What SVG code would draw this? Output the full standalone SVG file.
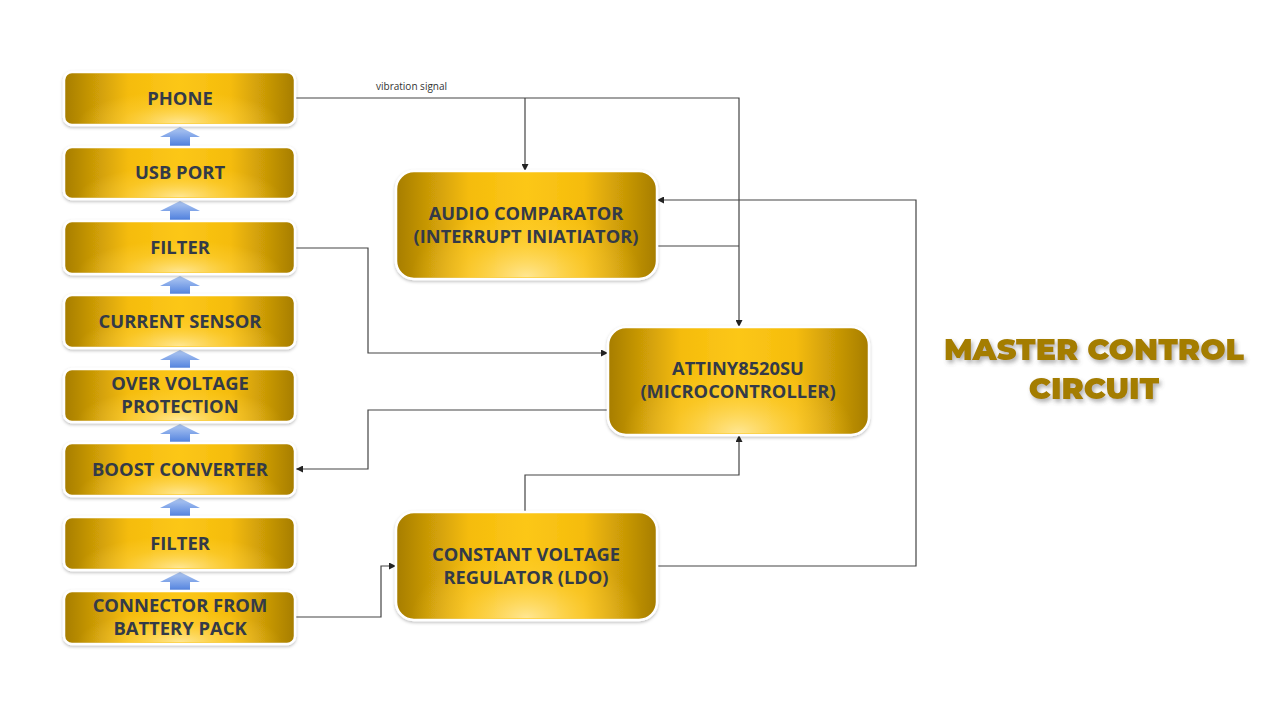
<svg xmlns="http://www.w3.org/2000/svg" width="1280" height="720" viewBox="0 0 1280 720">
<defs>
<linearGradient id="gold" x1="0" y1="0" x2="1" y2="0">
<stop offset="0" stop-color="#a67d02"/>
<stop offset="0.28" stop-color="#f5bc0b"/>
<stop offset="0.5" stop-color="#fcc719"/>
<stop offset="0.72" stop-color="#f5bc0b"/>
<stop offset="1" stop-color="#a67d02"/>
</linearGradient>
<radialGradient id="glow" cx="50%" cy="100%" r="50%" fx="50%" fy="100%" gradientTransform="translate(0.5 1) scale(0.9 1.3) translate(-0.5 -1)">
<stop offset="0" stop-color="#ffe89a" stop-opacity="0.95"/>
<stop offset="0.6" stop-color="#ffd44a" stop-opacity="0.35"/>
<stop offset="1" stop-color="#ffd44a" stop-opacity="0"/>
</radialGradient>
<linearGradient id="blue" x1="0" y1="0" x2="0" y2="1">
<stop offset="0" stop-color="#b2caf3"/>
<stop offset="1" stop-color="#4f80de"/>
</linearGradient>
<filter id="sh" x="-10%" y="-10%" width="120%" height="130%">
<feDropShadow dx="0" dy="1.5" stdDeviation="1.5" flood-color="#000" flood-opacity="0.25"/>
</filter>
<filter id="tsh" x="-10%" y="-20%" width="130%" height="160%">
<feDropShadow dx="2" dy="3" stdDeviation="2" flood-color="#555" flood-opacity="0.45"/>
</filter>
<marker id="ah" viewBox="0 0 10 10" refX="10" refY="5" markerWidth="7" markerHeight="7" markerUnits="userSpaceOnUse" orient="auto">
<path d="M0,0 L10,5 L0,10 z" fill="#222"/>
</marker>
<g id="uparrow">
<path d="M0,-9 L20,1 L10,1 L10,10 L-10,10 L-10,1 L-20,1 z" fill="url(#blue)"/>
</g>
</defs>
<style>
.box{fill:url(#gold);stroke:#fff;stroke-width:2.5;filter:url(#sh)}
.glow{fill:url(#glow);stroke:none}
.lbl{font-family:"Open Sans","Noto Sans",sans-serif;font-weight:700;fill:#333a48;text-anchor:middle}
.s{font-size:18.4px}
.m{font-size:18.3px}
.con{fill:none;stroke:#444;stroke-width:1.2}
.title{font-family:"Montserrat","Lato","Open Sans",sans-serif;font-weight:900;font-size:30px;fill:#a47d05;text-anchor:middle;filter:url(#tsh)}
</style>
<rect width="1280" height="720" fill="#fff"/>

<g id="connectors">
<polyline class="con" points="295,98 739,98 739,327" marker-end="url(#ah)"/>
<polyline class="con" points="525,98 525,171" marker-end="url(#ah)"/>
<polyline class="con" points="657,246 739,246"/>
<polyline class="con" points="295,248 368,248 368,353 608,353" marker-end="url(#ah)"/>
<polyline class="con" points="608,410 368,410 368,469 296,469" marker-end="url(#ah)"/>
<polyline class="con" points="295,617 381,617 381,566 396,566" marker-end="url(#ah)"/>
<polyline class="con" points="525,512 525,475 739,475 739,435" marker-end="url(#ah)"/>
<polyline class="con" points="657,566 916,566 916,200 657,200" marker-end="url(#ah)"/>
<text x="376" y="90" font-family="'Open Sans','DejaVu Sans',sans-serif" font-size="10" fill="#333">vibration signal</text>
</g>

<g id="arrows">
<use href="#uparrow" x="180" y="136"/>
<use href="#uparrow" x="180" y="210"/>
<use href="#uparrow" x="180" y="285"/>
<use href="#uparrow" x="180" y="359"/>
<use href="#uparrow" x="180" y="433"/>
<use href="#uparrow" x="180" y="507"/>
<use href="#uparrow" x="180" y="581"/>
</g>

<g id="n-phone"><rect class="box" x="64" y="72" width="231" height="53" rx="8"/><rect class="glow" x="66" y="74" width="227" height="49" rx="7"/><text class="lbl s" x="180" y="105">PHONE</text></g>
<g id="n-usb"><rect class="box" x="64" y="147" width="231" height="52" rx="8"/><rect class="glow" x="66" y="149" width="227" height="48" rx="7"/><text class="lbl s" x="180" y="179">USB PORT</text></g>
<g id="n-filter1"><rect class="box" x="64" y="221" width="231" height="53" rx="8"/><rect class="glow" x="66" y="223" width="227" height="49" rx="7"/><text class="lbl s" x="180" y="254">FILTER</text></g>
<g id="n-current"><rect class="box" x="64" y="295" width="231" height="53" rx="8"/><rect class="glow" x="66" y="297" width="227" height="49" rx="7"/><text class="lbl s" x="180" y="328">CURRENT SENSOR</text></g>
<g id="n-ovp"><rect class="box" x="64" y="369" width="231" height="53" rx="8"/><rect class="glow" x="66" y="371" width="227" height="49" rx="7"/><text class="lbl s" x="180" y="390"><tspan x="180">OVER VOLTAGE</tspan><tspan x="180" dy="23">PROTECTION</tspan></text></g>
<g id="n-boost"><rect class="box" x="64" y="443" width="231" height="53" rx="8"/><rect class="glow" x="66" y="445" width="227" height="49" rx="7"/><text class="lbl s" x="180" y="476">BOOST CONVERTER</text></g>
<g id="n-filter2"><rect class="box" x="64" y="517" width="231" height="53" rx="8"/><rect class="glow" x="66" y="519" width="227" height="49" rx="7"/><text class="lbl s" x="180" y="550">FILTER</text></g>
<g id="n-connector"><rect class="box" x="64" y="591" width="231" height="53" rx="8"/><rect class="glow" x="66" y="593" width="227" height="49" rx="7"/><text class="lbl s" x="180" y="612"><tspan x="180">CONNECTOR FROM</tspan><tspan x="180" dy="23">BATTERY PACK</tspan></text></g>

<g id="n-audio"><rect class="box" x="396" y="171" width="261" height="108" rx="18"/><rect class="glow" x="398" y="173" width="257" height="104" rx="16"/><text class="lbl m" x="526" y="220"><tspan x="526">AUDIO COMPARATOR</tspan><tspan x="526" dy="23">(INTERRUPT INIATIATOR)</tspan></text></g>
<g id="n-attiny"><rect class="box" x="608" y="327" width="261" height="108" rx="18"/><rect class="glow" x="610" y="329" width="257" height="104" rx="16"/><text class="lbl m" x="738" y="375"><tspan x="738">ATTINY8520SU</tspan><tspan x="738" dy="23">(MICROCONTROLLER)</tspan></text></g>
<g id="n-ldo"><rect class="box" x="396" y="512" width="261" height="108" rx="18"/><rect class="glow" x="398" y="514" width="257" height="104" rx="16"/><text class="lbl m" x="526" y="561"><tspan x="526">CONSTANT VOLTAGE</tspan><tspan x="526" dy="23">REGULATOR (LDO)</tspan></text></g>

<g id="title">
<text class="title" x="1094" y="360"><tspan x="1094">MASTER CONTROL</tspan><tspan x="1094" dy="39">CIRCUIT</tspan></text>
</g>
</svg>
